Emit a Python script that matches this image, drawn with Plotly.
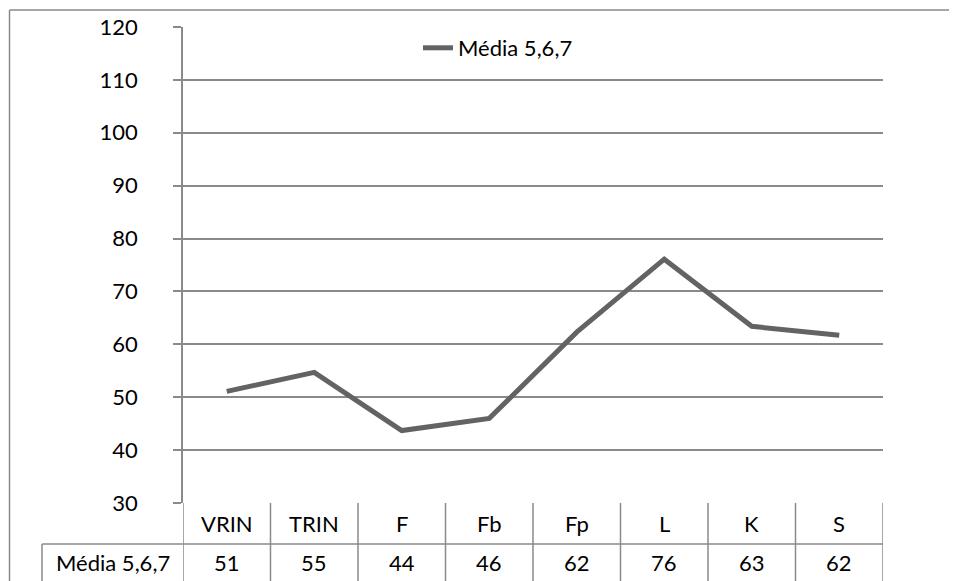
import plotly.graph_objects as go

categories = ["VRIN", "TRIN", "F", "Fb", "Fp", "L", "K", "S"]
values = [51.1, 54.7, 43.7, 46.0, 62.3, 76.1, 63.4, 61.7]
table_labels = ["51", "55", "44", "46", "62", "76", "63", "62"]
series_name = "Média 5,6,7"
y_ticks = [30, 40, 50, 60, 70, 80, 90, 100, 110, 120]

FONT = "Lato, 'Open Sans', sans-serif"
FS = 22
GRID = "#8a8a8a"
LINE = "#636363"

OFF = 8  # page body margin
W, H = 957 - OFF, 581 - OFF
L, T = 183 - OFF, 27 - OFF
R = W - (883 - OFF)
B = H - (503 - OFF)
pw, ph = W - L - R, H - T - B

def px_x(px):
    return (px - OFF - L) / pw

def px_y(py):
    return 1 - (py - OFF - T) / ph

n = len(categories)
xs = list(range(n))

fig = go.Figure()
fig.add_trace(go.Scatter(
    x=xs, y=values, mode="lines", name=series_name,
    line=dict(color=LINE, width=5), showlegend=True,
))

shapes = []
annotations = []

# outer chart border (left & top)
shapes.append(dict(type="line", xref="paper", yref="paper",
                   x0=px_x(9.5), x1=px_x(9.5), y0=px_y(10), y1=px_y(600),
                   line=dict(color=GRID, width=1.5)))
shapes.append(dict(type="line", xref="paper", yref="paper",
                   x0=px_x(9.5), x1=px_x(970), y0=px_y(10), y1=px_y(10),
                   line=dict(color=GRID, width=1.5)))

# data table
y_head_top = 0.0
y_row = px_y(544)
y_bot = px_y(600)
for i in range(n + 1):
    shapes.append(dict(type="line", xref="x", yref="paper",
                       x0=i - 0.5, x1=i - 0.5, y0=y_head_top, y1=y_bot,
                       line=dict(color=GRID, width=1.5)))
shapes.append(dict(type="line", xref="paper", yref="paper",
                   x0=px_x(42), x1=1, y0=y_row, y1=y_row,
                   line=dict(color=GRID, width=1.5)))
shapes.append(dict(type="line", xref="paper", yref="paper",
                   x0=px_x(42), x1=px_x(42), y0=y_row, y1=y_bot,
                   line=dict(color=GRID, width=1.5)))

for i, (c, v) in enumerate(zip(categories, table_labels)):
    annotations.append(dict(x=i, y=px_y(523), xref="x", yref="paper",
                            text=c, showarrow=False, xanchor="center",
                            yanchor="middle",
                            font=dict(family=FONT, size=FS, color="black")))
    annotations.append(dict(x=i, y=px_y(562), xref="x", yref="paper",
                            text=v, showarrow=False, xanchor="center",
                            yanchor="middle",
                            font=dict(family=FONT, size=FS, color="black")))
annotations.append(dict(x=px_x(112.5), y=px_y(562), xref="paper", yref="paper",
                        text=series_name, showarrow=False, xanchor="center",
                        yanchor="middle",
                        font=dict(family=FONT, size=FS, color="black")))

fig.update_layout(
    width=W, height=H,
    margin=dict(l=L, r=R, t=T, b=B, pad=0, autoexpand=False),
    paper_bgcolor="white", plot_bgcolor="white",
    font=dict(family=FONT, size=FS, color="black"),
    xaxis=dict(range=[-0.5, n - 0.5], showgrid=False, zeroline=False,
               showticklabels=False, ticks="", showline=False,
               automargin=False),
    yaxis=dict(range=[30, 120], tickvals=y_ticks, showgrid=True,
               gridcolor=GRID, gridwidth=1.5, zeroline=False,
               showline=True, linecolor=GRID, linewidth=1.5,
               ticks="outside", ticklen=8, tickcolor=GRID, tickwidth=1.5,
               ticklabelstandoff=31, automargin=False,
               tickfont=dict(family=FONT, size=FS, color="black")),
    legend=dict(x=px_x(418), y=px_y(48), xanchor="left", yanchor="middle",
                bgcolor="rgba(0,0,0,0)", font=dict(family=FONT, size=FS),
                itemwidth=30),
    shapes=shapes,
    annotations=annotations,
)

fig.write_html("out.html")
